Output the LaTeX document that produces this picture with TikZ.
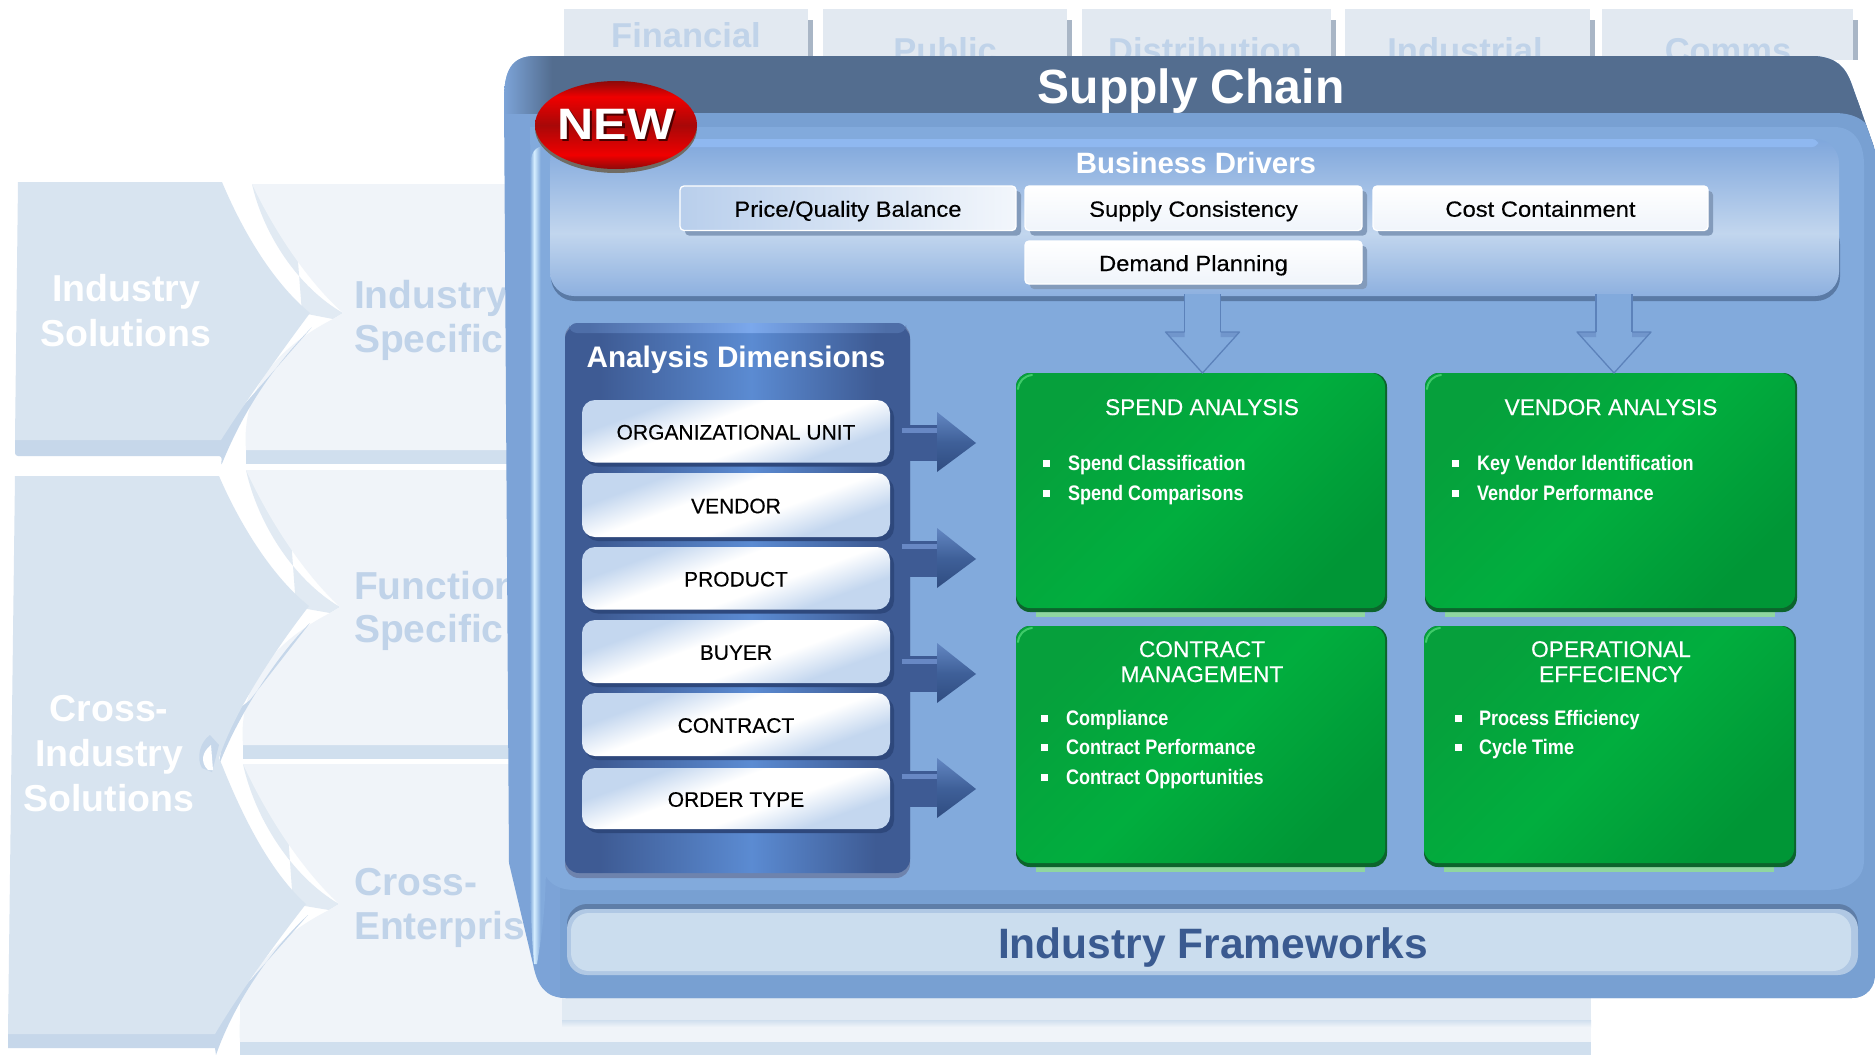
\documentclass[tikz,border=0pt]{standalone}
\usepackage{fontspec}
\usepackage{graphicx}
\setmainfont{Liberation Sans}
\newfontfamily\medfont[FakeBold=0.35]{Liberation Sans}
\usetikzlibrary{shapes.geometric,calc}
\definecolor{chevA}{HTML}{D8E4F0}
\definecolor{chevB}{HTML}{C6D7EA}
\definecolor{backA}{HTML}{F0F4F9}
\definecolor{backB}{HTML}{D0DFEE}
\definecolor{backE}{HTML}{E1EAF3}
\definecolor{tabc}{HTML}{E2E9F1}
\definecolor{tabs}{HTML}{A9B6C6}
\definecolor{fadet}{HTML}{C0D3E9}
\definecolor{bodyc}{HTML}{7CA3D7}
\definecolor{frontc}{HTML}{78A0D2}
\definecolor{innerc}{HTML}{82AADC}
\definecolor{darkband}{HTML}{536D8F}
\definecolor{frameb}{HTML}{CBDDEE}
\definecolor{frameo}{HTML}{B0C8E4}
\definecolor{frames}{HTML}{5F7EA8}
\definecolor{navy}{HTML}{3A5A90}
\definecolor{adE}{HTML}{3E5B94}
\definecolor{adC}{HTML}{5B8BD2}
\definecolor{adT}{HTML}{7BA8EC}
\definecolor{adTe}{HTML}{4E6EA8}
\definecolor{adS}{HTML}{2E487C}
\definecolor{adB}{HTML}{6E83AD}
\definecolor{adH}{HTML}{6888C4}
\definecolor{hlc}{HTML}{D6EEFF}
\definecolor{bizA}{HTML}{7FA7DC}
\definecolor{bizB}{HTML}{C2D6EE}
\definecolor{bizC}{HTML}{8DB0DF}
\definecolor{bizT}{HTML}{8FB8F0}
\definecolor{bizS}{HTML}{5A7AA5}
\definecolor{rA}{HTML}{8C0A0A}
\definecolor{rB}{HTML}{F00000}
\definecolor{rC}{HTML}{A80808}
\definecolor{hdA}{HTML}{6387C2}
\definecolor{hdB}{HTML}{3F6099}
\definecolor{hdC}{HTML}{2F4C80}
\definecolor{grA}{HTML}{06A03C}
\definecolor{grB}{HTML}{01AE3E}
\definecolor{grC}{HTML}{009636}
\definecolor{grD}{HTML}{0C642C}
\definecolor{grL}{HTML}{8FD6A0}
\definecolor{grH}{HTML}{3FCB6A}
\definecolor{dnE}{HTML}{5C82BA}
\definecolor{dnS}{HTML}{6A8EC5}
\definecolor{badgeS}{HTML}{706C64}
\definecolor{dimB}{HTML}{C4D7EF}
\pgfdeclareverticalshading{bizshade}{100bp}{color(0bp)=(bizC);color(25bp)=(bizC);color(45bp)=(bizB);color(75bp)=(bizA);color(100bp)=(bizA)}
\pgfdeclarehorizontalshading{adshade}{100bp}{color(0bp)=(adE);color(30bp)=(adE);color(52bp)=(adC);color(70bp)=(adE);color(100bp)=(adE)}
\pgfdeclarehorizontalshading{adtop}{100bp}{color(0bp)=(adTe);color(28bp)=(adTe);color(52bp)=(adT);color(72bp)=(adTe);color(100bp)=(adTe)}
\pgfdeclarehorizontalshading{hlshade}{100bp}{color(0bp)=(innerc);color(25bp)=(innerc);color(38bp)=(hlc);color(58bp)=(innerc);color(100bp)=(innerc)}
\pgfdeclareverticalshading{newshade}{100bp}{color(0bp)=(rA);color(25bp)=(rA);color(33bp)=(rB);color(50bp)=(rC);color(66bp)=(rB);color(75bp)=(rA);color(100bp)=(rA)}
\pgfdeclareverticalshading{headshade}{100bp}{color(0bp)=(hdC);color(25bp)=(hdC);color(50bp)=(hdB);color(75bp)=(hdA);color(100bp)=(hdA)}
\pgfdeclareverticalshading{dimshade}{100bp}{color(0bp)=(dimB);color(30bp)=(dimB);color(43bp)=(white);color(57bp)=(white);color(70bp)=(dimB);color(100bp)=(dimB)}
\tikzset{
  every node/.style={inner sep=0pt,outer sep=0pt},
  fadetxt/.style={anchor=base,text=fadet,font=\fontsize{39}{39}\selectfont\bfseries},
  tabtxt/.style={anchor=base,text=fadet,font=\fontsize{34.5}{35}\selectfont\bfseries},
  solntxt/.style={anchor=base,text=white,font=\fontsize{37.5}{38}\selectfont\bfseries},
  bizbox/.style={rounded corners=4pt,draw=white,line width=1.3pt,text=black,text height=17pt,text depth=0pt,font=\medfont\fontsize{22}{22}\selectfont,top color=white,bottom color=white!88!bizA},
  pricebox/.style={bizbox,left color=bizA!55!white,right color=white!90!bizA},
  dimbox/.style={rounded corners=13pt,text=black,text height=16.5pt,text depth=0pt,font=\medfont\fontsize{21}{21}\selectfont,shading=dimshade,shading angle=20},
  grnbox/.style={rounded corners=14pt,top color=grA,bottom color=grC,middle color=grB,shading angle=45},
  grntitle/.style={text=white,font=\medfont\fontsize{22.7}{23}\selectfont,text height=16pt,text depth=0pt},
  grnitem/.style={anchor=west,text=white,font=\fontsize{21}{21}\selectfont\bfseries,text height=15pt,text depth=0pt},
  bul/.style={fill=white,minimum width=7pt,minimum height=7pt},
  dnedge/.style={draw=dnE,line width=1.3pt,line join=round},
}
\newcommand\bx[7][]{\node[#2,minimum width={#5pt-#3pt},minimum height={#6pt-#4pt},#1] (#7) at ({(#3+#5)/2},{(#4+#6)/2})}
\newcommand\tabb[6]{%
  \fill[tabs] (#2,20) rectangle (#3+5,60);
  \node[fill=tabc,minimum width={#3pt-#2pt},minimum height=51pt] (#1) at ({(#2+#3)/2},34.5) {};
  \node[tabtxt] (#1t) at (#5,#6) {#4};}
\newcommand\backchev[7]{% name, top x,y, tip x,y, bottom x,y
  \pgfmathsetmacro\dxa{#4-#2}\pgfmathsetmacro\dya{#5-#3}
  \pgfmathsetmacro\dxb{#6-#4}\pgfmathsetmacro\dyb{#7-#5}
  \fill[backE] (#2,#3) .. controls ({#2+.12*\dxa},{#3+.38*\dya}) and ({#2+.5*\dxa},{#3+.8*\dya}) .. (#4,#5)
     -- ({#4-10},{#5+6}) -- ({#2+50},#5) -- ({#2+40},#3) -- cycle;
  \fill[backA] (#2,#3) -- (560,#3) -- (560,#7) -- (#6,#7)
     .. controls ({#4-10+.95*\dxb},{#5+6+.5*\dyb}) and ({#4-10+.55*\dxb},{#5+6+.2*\dyb}) .. ({#4-10},{#5+6})
     -- (#4,#5) .. controls ({#2+.56*\dxa},{#3+.72*\dya}) and ({#2+.2*\dxa},{#3+.3*\dya}) .. (#2,#3) -- cycle;
  \node[minimum width=1pt,minimum height=1pt] (#1) at ({#4-1},#5) {};
}
\newcommand\rarrow[1]{\begin{scope}[shift={(#1)}]
  \fill[adE] (-74,-18) -- (-37,-18) -- (-37,18) -- (-74,18) -- cycle;
  \fill[adH] (-74,-15) rectangle (-37,-10);
  \shade[shading=headshade] (-39,-31) -- (0,0) -- (-39,29) -- cycle;
\end{scope}}
\newcommand\darrow[1]{\begin{scope}[shift={(#1)}]
  \fill[innerc] (-18,-79) rectangle (18,-38);
  \fill[innerc] (-37,-41) -- (37,-41) -- (0,0) -- cycle;
  \fill[dnS!70!innerc] (-37,-41) -- (-18,-41) -- (-18,-36) -- (-32,-36) -- cycle;
  \fill[dnS!70!innerc] (37,-41) -- (18,-41) -- (18,-36) -- (32,-36) -- cycle;
  \draw[dnedge] (-18,-79) -- (-18,-41);
  \draw[dnedge] (18,-79) -- (18,-41);
  \draw[dnedge] (-18,-41) -- (-37,-41) -- (0,0) -- (37,-41) -- (18,-41);
\end{scope}}
\begin{document}
\begin{tikzpicture}[x=1pt,y=-1pt]
\useasboundingbox (0,0) rectangle (1875,1055);
\fill[white] (0,0) rectangle (1875,1055);

% ---- faded tabs behind
\tabb{tabA}{564}{808}{Financial}{686}{47}
\tabb{tabB}{823}{1067}{Public}{945}{62}
\tabb{tabC}{1082}{1331}{Distribution}{1205}{62}
\tabb{tabD}{1345}{1590}{Industrial}{1465}{62}
\tabb{tabE}{1602}{1853}{Comms}{1728}{62}

% ---- faded back chevrons
\fill[backB] (246,450) rectangle (560,464);
\backchev{chA}{252}{184}{343}{313}{246}{450}
\fill[backB] (243,745) rectangle (560,759);
\backchev{chB}{246}{470}{340}{607}{243}{745}
\backchev{chC}{243}{764}{339}{904}{240}{1042}
\fill[backA] (240,980) rectangle (1591,1042);
\fill[backB] (240,1042) rectangle (1591,1055);
\fill[backE] (562,990) rectangle (1591,1020);
\shade[top color=backB,bottom color=backA] (562,1020) rectangle (1591,1027);

\node[fadetxt,anchor=base west] (lbA) at (354,308) {Industry};
\node[fadetxt,anchor=base west] (lbB) at (354,352) {Specific};
\node[fadetxt,anchor=base west] (lbC) at (354,599) {Functional};
\node[fadetxt,anchor=base west] (lbD) at (354,642) {Specific};
\node[fadetxt,anchor=base west] (lbE) at (354,895) {Cross-};
\node[fadetxt,anchor=base west] (lbF) at (354,939) {Enterprise};

% ---- left solution chevrons
\fill[chevB,rounded corners=3pt] (15,430) -- (222,430) -- (313,326) .. controls (285,355) and (250,395) .. (221,466) -- (222,456) -- (15,456) -- cycle;
\fill[chevA] (18,182) -- (222,182) .. controls (240,225) and (270,280) .. (310,313)
   .. controls (275,360) and (240,410) .. (221,440) -- (15,440) -- cycle;
\node[solntxt] (solA) at (126,301) {Industry};
\node[solntxt] (solB) at (126,346.5) {Solutions};

\fill[chevB] (8,1020) -- (215,1020) -- (308,915) .. controls (275,945) and (235,1000) .. (216,1055) -- (215,1048) -- (8,1048) -- cycle;
\fill[chevB] (250,700) -- (310,623) .. controls (282,650) and (240,710) .. (219,765) -- (225,720) -- cycle;
\fill[chevA] (15,476) -- (219,476) .. controls (238,520) and (270,575) .. (309,606)
   .. controls (275,650) and (235,710) .. (219,758) -- (222,765)
   .. controls (240,810) and (268,870) .. (306,904)
   .. controls (270,950) and (235,1000) .. (215,1034) -- (8,1034) -- cycle;
\fill[chevB] (210,735) .. controls (200,742) and (196,758) .. (202,768) -- (212,772) -- (219,745) -- cycle;
\fill[white] (211,745) .. controls (202,752) and (200,762) .. (208,770) -- (213,770) -- cycle;
\node[solntxt] (solC) at (109,721) {Cross-};
\node[solntxt] (solD) at (109,766) {Industry};
\node[solntxt] (solE) at (109,811) {Solutions};

% ---- main box
\def\mainoutline{(504,100) .. controls (504,70) and (512,56) .. (535,56) -- (1816,56) .. controls (1835,58) and (1845,65) .. (1852,85) -- (1875,150) -- (1875,975) .. controls (1875,985) and (1868,998) .. (1852,998) -- (566,998) .. controls (545,998) and (537,985) .. (533,964) -- (509,863) -- cycle}
\fill[bodyc] \mainoutline;
\begin{scope}
  \clip \mainoutline;
  \shade[left color=bodyc,right color=darkband] (504,40) rectangle (552,113);
  \fill[darkband] (552,40) rectangle (1875,113);
  \fill[darkband] (1700,100) rectangle (1875,170);
  \fill[frontc] (560,113) -- (1834,113) .. controls (1860,113) and (1875,125) .. (1875,150) -- (1875,998) -- (560,998) -- cycle;
\end{scope}
\fill[innerc] (530,127) -- (1834,127) .. controls (1852,127) and (1864,140) .. (1864,165) -- (1864,860) .. controls (1864,878) and (1850,890) .. (1825,890) -- (575,890) .. controls (550,890) and (540,875) .. (540,850) -- cycle;
\shade[shading=hlshade] (530,170) .. controls (530,152) and (535,146) .. (546,146) -- (546,860) .. controls (546,910) and (541,940) .. (537,964) -- (534,964) .. controls (531,930) and (530,900) .. (530,860) -- cycle;
\node[anchor=base,text=white,font=\fontsize{48}{48}\selectfont\bfseries] (supply) at (1191,103) {Supply Chain};

% ---- business drivers
\fill[bizS,rounded corners=24pt] (551,220) rectangle (1840,301);
\bx[rounded corners=24pt,shading=bizshade]{fill=none}{550}{139}{1839}{296}{biz} {};
\fill[bizT,rounded corners=6pt] (572,139) rectangle (1818,147);
\node[anchor=base,text=white,font=\fontsize{29.4}{30}\selectfont\bfseries] (biztitle) at (1196,173) {Business Drivers};
\fill[bizS!75!white,rounded corners=4pt] (685,191) rectangle (1021,235.5);
\fill[bizS!75!white,rounded corners=4pt] (1030,191) rectangle (1367,235.5);
\fill[bizS!75!white,rounded corners=4pt] (1378,191) rectangle (1713,235.5);
\fill[bizS!75!white,rounded corners=4pt] (1030,246) rectangle (1367,289);
\bx{pricebox}{680}{186}{1016}{230.5}{drvA} {\scalebox{1.08}[1]{Price/Quality Balance}};
\bx{bizbox}{1025}{186}{1362}{230.5}{drvB} {\scalebox{1.08}[1]{Supply Consistency}};
\bx{bizbox}{1373}{186}{1708}{230.5}{drvC} {\scalebox{1.08}[1]{Cost Containment}};
\bx{bizbox}{1025}{241}{1362}{284}{drvD} {\scalebox{1.08}[1]{Demand Planning}};

% ---- analysis dimensions
\fill[adB,rounded corners=14pt] (565,323) rectangle (910,878);
\bx[rounded corners=14pt,shading=adshade]{fill=none}{565}{325}{910}{873}{adp} {};
\shade[shading=adtop,rounded corners=8pt] (569,323) rectangle (906,333);
\node[anchor=base,text=white,font=\fontsize{29.7}{30}\selectfont\bfseries] (adtitle) at (736,367) {Analysis Dimensions};
\foreach \ya/\yb in {400/462.5,473/537,547/609.5,620/683,693/756,768/829}
  \fill[adS,rounded corners=13pt] (585,\ya+4) rectangle (894,\yb+4);
\bx{dimbox}{582}{400}{890}{462.5}{dimA} {ORGANIZATIONAL UNIT};
\bx{dimbox}{582}{473}{890}{537}{dimB} {VENDOR};
\bx{dimbox}{582}{547}{890}{609.5}{dimC} {PRODUCT};
\bx{dimbox}{582}{620}{890}{683}{dimD} {BUYER};
\bx{dimbox}{582}{693}{890}{756}{dimE} {CONTRACT};
\bx{dimbox}{582}{768}{890}{829}{dimF} {ORDER TYPE};

% ---- green boxes
\foreach \xa/\ya/\xb/\yb in {1016/373/1385/611,1425/373/1795/611,1016/626/1385/866,1424/626/1794/866}{
  \fill[grL] (\xa+20,\yb-4) rectangle (\xb-20,\yb+6);
  \fill[grD,rounded corners=14pt] (\xa,\ya) rectangle (\xb+2,\yb+1);
}
\bx{grnbox}{1016}{373}{1385}{608}{spend} {};
\bx{grnbox}{1425}{373}{1795}{608}{vendor} {};
\bx{grnbox}{1016}{626}{1385}{863}{contract} {};
\bx{grnbox}{1424}{626}{1794}{863}{oper} {};
\foreach \xa/\ya in {1016/373,1425/373,1016/626,1424/626}
  \draw[grH,line width=2pt,line cap=round] (\xa+2,\ya+16) .. controls (\xa+3,\ya+8) and (\xa+8,\ya+3) .. (\xa+16,\ya+2);

\node[grntitle] (tA) at (1202,407) {SPEND ANALYSIS};
\node[bul] (bA1) at (1046,463) {};
\node[grnitem] (iA1) at (1068,463) {\scalebox{.86}[1]{Spend Classification}};
\node[bul] (bA2) at (1046,493) {};
\node[grnitem] (iA2) at (1068,493) {\scalebox{.86}[1]{Spend Comparisons}};

\node[grntitle] (tB) at (1611,407) {VENDOR ANALYSIS};
\node[bul] (bB1) at (1455,463) {};
\node[grnitem] (iB1) at (1477,463) {\scalebox{.86}[1]{Key Vendor Identification}};
\node[bul] (bB2) at (1455,493) {};
\node[grnitem] (iB2) at (1477,493) {\scalebox{.86}[1]{Vendor Performance}};

\node[grntitle] (tC1) at (1202,649) {CONTRACT};
\node[grntitle] (tC2) at (1202,674) {MANAGEMENT};
\node[bul] (bC1) at (1044,718) {};
\node[grnitem] (iC1) at (1066,718) {\scalebox{.86}[1]{Compliance}};
\node[bul] (bC2) at (1044,747) {};
\node[grnitem] (iC2) at (1066,747) {\scalebox{.86}[1]{Contract Performance}};
\node[bul] (bC3) at (1044,777) {};
\node[grnitem] (iC3) at (1066,777) {\scalebox{.86}[1]{Contract Opportunities}};

\node[grntitle] (tD1) at (1611,649) {OPERATIONAL};
\node[grntitle] (tD2) at (1611,674) {EFFECIENCY};
\node[bul] (bD1) at (1458,718) {};
\node[grnitem] (iD1) at (1479,718) {\scalebox{.86}[1]{Process Efficiency}};
\node[bul] (bD2) at (1458,747) {};
\node[grnitem] (iD2) at (1479,747) {\scalebox{.86}[1]{Cycle Time}};

% ---- block arrows
\coordinate (tipS) at ($(spend.north)+(2,0)$);
\coordinate (tipV) at ($(vendor.north)+(4,0)$);
\darrow{tipS}
\darrow{tipV}
\coordinate (tipA) at (976,443);
\coordinate (tipB) at (976,559);
\coordinate (tipC) at (976,674);
\coordinate (tipD) at (976,789);
\rarrow{tipA}
\rarrow{tipB}
\rarrow{tipC}
\rarrow{tipD}

% ---- industry frameworks
\fill[frames,rounded corners=20pt] (567,904) rectangle (1858,960);
\bx[rounded corners=20pt]{fill=frameo}{567}{909}{1858}{975}{fwo} {};
\bx[rounded corners=18pt]{fill=frameb}{571}{913}{1851}{971}{fwi} {};
\node[anchor=base,text=navy,font=\fontsize{42.5}{43}\selectfont\bfseries] (fwt) at (1213,958) {Industry Frameworks};

% ---- NEW badge
\fill[badgeS] (616,128) ellipse [x radius=81,y radius=45];
\node[ellipse,shading=newshade,minimum width=162pt,minimum height=88pt] (newb) at (616,125) {};
\node[anchor=base,text=black!70!red,font=\fontsize{44}{44}\selectfont\bfseries] at (618.5,141.5) {\scalebox{1.14}[1]{NEW}};
\node[anchor=base,text=white,font=\fontsize{44}{44}\selectfont\bfseries] (newt) at (616,139) {\scalebox{1.14}[1]{NEW}};
\end{tikzpicture}
\end{document}
